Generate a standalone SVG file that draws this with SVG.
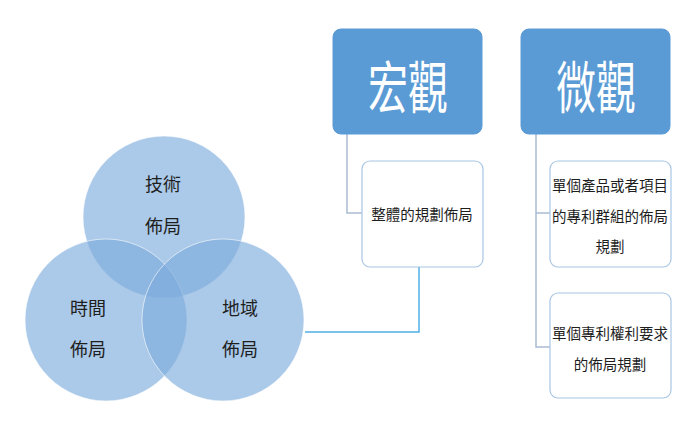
<svg xmlns="http://www.w3.org/2000/svg" width="697" height="424" viewBox="0 0 697 424">
<style>
.c{fill:#7cabdb;fill-opacity:0.64;stroke:#ffffff;stroke-opacity:0.6;stroke-width:1}
.t{font-family:"Noto Sans CJK TC","Noto Sans CJK SC",sans-serif;font-size:18px;fill:#1e1e1e;text-anchor:middle;dominant-baseline:central}
.s{font-family:"Noto Sans CJK TC","Noto Sans CJK SC",sans-serif;font-size:14.5px;fill:#1e1e1e;text-anchor:middle;dominant-baseline:central}
.h{fill:#5b9bd5;stroke:#5b9bd5;stroke-width:1}
.ht{font-family:"Noto Sans CJK TC","Noto Sans CJK SC",sans-serif;font-size:56px;fill:#ffffff;text-anchor:middle;dominant-baseline:central}
.b{fill:#ffffff;stroke:#a8c6e4;stroke-width:1.2}
.l{fill:none;stroke:#a9bcd3;stroke-width:1.5}
.lb{fill:none;stroke:#4fb0e6;stroke-width:1.5}
</style>
<rect width="697" height="424" fill="#ffffff"/>
<g id="venn">
<circle class="c" cx="164" cy="217" r="81"/>
<circle class="c" cx="106" cy="320" r="81"/>
<circle class="c" cx="223" cy="320" r="81"/>
</g>
<g id="tech"><text class="t" x="163" y="183">技術</text><text class="t" x="163" y="225">佈局</text></g>
<g id="time"><text class="t" x="88" y="307">時間</text><text class="t" x="88" y="348">佈局</text></g>
<g id="region"><text class="t" x="240" y="307">地域</text><text class="t" x="240" y="348">佈局</text></g>
<g id="connectors">
<polyline class="l" points="347,134 347,213 362,213"/>
<polyline class="l" points="536,134 536,347 550,347"/>
<line class="l" x1="536" y1="213" x2="550" y2="213"/>
<polyline class="lb" points="305,332 419,332 419,267"/>
</g>
<g id="macro"><rect class="h" x="333" y="29" width="149" height="105" rx="8"/><text class="ht" x="408" y="83" textLength="80" lengthAdjust="spacingAndGlyphs">宏觀</text></g>
<g id="micro"><rect class="h" x="521" y="29" width="149" height="105" rx="8"/><text class="ht" x="596" y="83" textLength="80" lengthAdjust="spacingAndGlyphs">微觀</text></g>
<g id="macro1"><rect class="b" x="362" y="161" width="121" height="106" rx="8"/><text class="s" x="422" y="213">整體的規劃佈局</text></g>
<g id="micro1"><rect class="b" x="550" y="161" width="121" height="106" rx="8"/>
<text class="s" x="610" y="184">單個產品或者項目</text>
<text class="s" x="610" y="215">的專利群組的佈局</text>
<text class="s" x="610" y="245">規劃</text></g>
<g id="micro2"><rect class="b" x="550" y="293" width="121" height="105" rx="8"/>
<text class="s" x="610" y="332">單個專利權利要求</text>
<text class="s" x="610" y="363">的佈局規劃</text></g>
</svg>
